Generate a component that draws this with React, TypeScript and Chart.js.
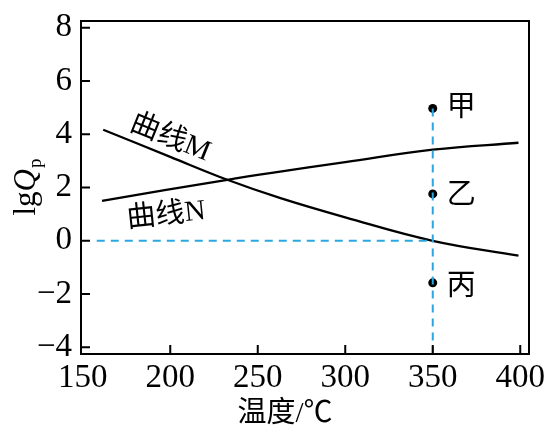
import React, { useEffect, useRef } from "react";
import { Chart, registerables } from "chart.js";

Chart.register(...registerables);

// Temperature (°C) and lgQp values
const tempsM = [161.7, 200, 232.6, 263, 300, 350, 399];
const valuesM = [4.17, 3.15, 2.29, 1.6, 0.88, 0, -0.56];
const tempsN = [161, 232.6, 258, 300, 350, 399];
const valuesN = [1.5, 2.29, 2.55, 2.95, 3.42, 3.68];

const pointLabels = ["甲", "乙", "丙"];
const pointTemps = [350, 350, 350];
const pointValues = [4.97, 1.76, -1.58];

const xTicks = [150, 200, 250, 300, 350, 400];
const yTicks = [-4, -2, 0, 2, 4, 6, 8];

const guideStartT = 158;
const guideT = 350;
const guideY = 0;

const X_MIN = 149;
const X_MAX = 405;
const Y_MIN = -4.25;
const Y_MAX = 8.25;

const SERIF = "'Liberation Serif', 'Times New Roman', serif";
const CJK = "'Liberation Serif', 'Noto Sans CJK SC', serif";
const BLUE = "#2ba6df";

const decorPlugin = {
  id: "decor",
  afterDraw(chart: any) {
    const { ctx, chartArea, scales } = chart;
    const xs = scales.x;
    const ys = scales.y;
    ctx.save();
    // box
    ctx.strokeStyle = "#000";
    ctx.lineWidth = 2;
    ctx.strokeRect(chartArea.left, chartArea.top, chartArea.right - chartArea.left, chartArea.bottom - chartArea.top);
    // inward ticks
    const tl = 9;
    ctx.beginPath();
    xTicks.forEach((v) => {
      const px = xs.getPixelForValue(v);
      if (px <= chartArea.left + 3 || px >= chartArea.right - 3) return;
      ctx.moveTo(px, chartArea.bottom);
      ctx.lineTo(px, chartArea.bottom - tl);
    });
    yTicks.forEach((v) => {
      const py = ys.getPixelForValue(v);
      if (py <= chartArea.top + 3 || py >= chartArea.bottom - 3) return;
      ctx.moveTo(chartArea.left, py);
      ctx.lineTo(chartArea.left + tl, py);
    });
    ctx.stroke();

    // curve labels
    const drawRot = (text: string, t: number, v: number, deg: number, size: number) => {
      ctx.save();
      ctx.translate(xs.getPixelForValue(t), ys.getPixelForValue(v));
      ctx.rotate((deg * Math.PI) / 180);
      ctx.font = `${size}px ${CJK}`;
      ctx.fillStyle = "#000";
      ctx.textAlign = "center";
      ctx.textBaseline = "middle";
      ctx.fillText(text, 0, 0);
      ctx.restore();
    };
    drawRot("曲线M", 200, 3.85, 22, 29);
    drawRot("曲线N", 197.7, 0.95, -6, 29);

    // point labels
    ctx.font = `29px ${CJK}`;
    ctx.fillStyle = "#000";
    ctx.textAlign = "left";
    ctx.textBaseline = "middle";
    pointLabels.forEach((lab, i) => {
      const px = xs.getPixelForValue(pointTemps[i]) + 14;
      const py = ys.getPixelForValue(pointValues[i]) + (i === 0 ? 0 : i === 1 ? 2 : 5);
      ctx.fillText(lab, px, py);
    });

    // y title: lgQp
    ctx.save();
    ctx.translate(25, 187);
    ctx.rotate(-Math.PI / 2);
    const f1 = `31px ${SERIF}`;
    const f2 = `italic 31px ${SERIF}`;
    const f3 = `19px ${SERIF}`;
    ctx.font = f1;
    const w1 = ctx.measureText("lg").width;
    ctx.font = f2;
    const w2 = ctx.measureText("Q").width;
    ctx.font = f3;
    const w3 = ctx.measureText("p").width;
    const total = w1 + w2 + w3 + 1;
    let x0 = -total / 2;
    ctx.fillStyle = "#000";
    ctx.textAlign = "left";
    ctx.textBaseline = "alphabetic";
    ctx.font = f1;
    ctx.fillText("lg", x0, 10);
    x0 += w1;
    ctx.font = f2;
    ctx.fillText("Q", x0, 10);
    x0 += w2 + 1;
    ctx.font = f3;
    ctx.fillText("p", x0, 16);
    ctx.restore();

    // x title
    ctx.font = `29px ${CJK}`;
    ctx.fillStyle = "#000";
    ctx.textAlign = "center";
    ctx.textBaseline = "middle";
    ctx.fillText("温度/℃", 285, 414);
    ctx.restore();
  },
};

export default function App() {
  const ref = useRef<HTMLCanvasElement | null>(null);
  useEffect(() => {
    if (!ref.current) return;
    const chart = new Chart(ref.current, {
      type: "line",
      data: {
        datasets: [
          {
            label: "guideH",
            data: [
              { x: guideStartT, y: guideY },
              { x: guideT, y: guideY },
            ],
            borderColor: BLUE,
            borderWidth: 2,
            borderDash: [8, 6],
            pointRadius: 0,
            tension: 0,
          },
          {
            label: "guideV",
            data: [
              { x: guideT, y: pointValues[0] },
              { x: guideT, y: Y_MIN },
            ],
            borderColor: BLUE,
            borderWidth: 2,
            borderDash: [8, 6],
            pointRadius: 0,
            tension: 0,
          },
          {
            label: "曲线M",
            data: tempsM.map((t, i) => ({ x: t, y: valuesM[i] })),
            borderColor: "#000",
            borderWidth: 2.3,
            pointRadius: 0,
            tension: 0.4,
          },
          {
            label: "曲线N",
            data: tempsN.map((t, i) => ({ x: t, y: valuesN[i] })),
            borderColor: "#000",
            borderWidth: 2.3,
            pointRadius: 0,
            tension: 0.4,
          },
          {
            label: "points",
            data: pointTemps.map((t, i) => ({ x: t, y: pointValues[i] })),
            showLine: false,
            pointRadius: 4.5,
            pointBackgroundColor: "#000",
            pointBorderColor: "#000",
            borderWidth: 0,
          },
        ],
      },
      options: {
        responsive: false,
        animation: false,
        layout: { padding: { top: 21, right: 22, left: 0, bottom: 0 } },
        plugins: { legend: { display: false }, tooltip: { enabled: false } },
        scales: {
          x: {
            type: "linear",
            min: X_MIN,
            max: X_MAX,
            afterBuildTicks: (s: any) => {
              s.ticks = xTicks.map((v) => ({ value: v }));
            },
            afterFit: (s: any) => {
              s.height = 78;
              s.paddingLeft = 0;
              s.paddingRight = 0;
            },
            grid: { display: false, drawTicks: false },
            border: { display: false },
            ticks: {
              color: "#000",
              padding: 5,
              font: { family: SERIF, size: 33 },
              maxRotation: 0,
              autoSkip: false,
              callback: (v: any) => String(v),
            },
          },
          y: {
            type: "linear",
            min: Y_MIN,
            max: Y_MAX,
            afterBuildTicks: (s: any) => {
              s.ticks = yTicks.map((v) => ({ value: v }));
            },
            afterFit: (s: any) => {
              s.width = 81;
              s.paddingTop = 0;
              s.paddingBottom = 0;
            },
            grid: { display: false, drawTicks: false },
            border: { display: false },
            ticks: {
              color: "#000",
              padding: 9,
              font: { family: SERIF, size: 33 },
              autoSkip: false,
              callback: (v: any) => (v < 0 ? "\u2212" + Math.abs(v) : String(v)),
            },
          },
        },
      },
      plugins: [decorPlugin],
    } as any);
    return () => chart.destroy();
  }, []);
  return (
    <div style={{ position: "fixed", left: 0, top: 0, width: 551, height: 432, background: "#fff" }}>
      <canvas ref={ref} width={551} height={432} style={{ width: 551, height: 432 }} />
    </div>
  );
}
